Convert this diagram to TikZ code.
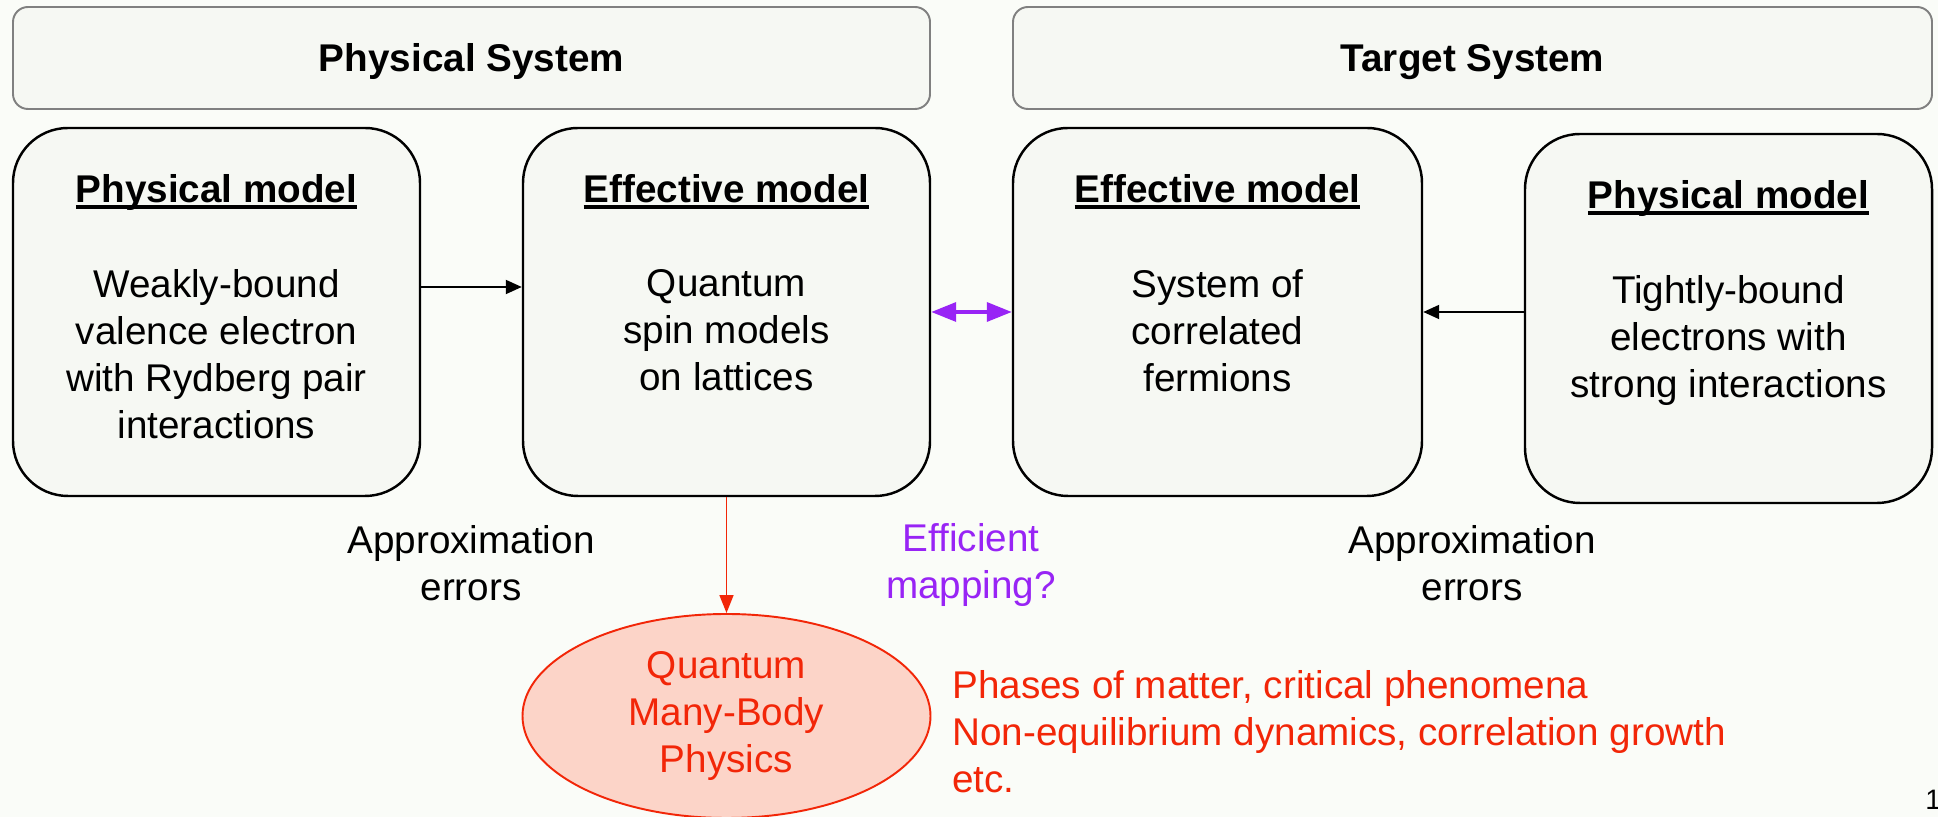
\documentclass[tikz,border=0pt]{standalone}
\usepackage{fontspec}
\setmainfont{Liberation Sans}
\usetikzlibrary{arrows.meta,shapes.geometric,positioning}

\definecolor{slidebg}{RGB}{250,252,248}
\definecolor{boxfill}{RGB}{246,248,243}
\definecolor{hotred}{RGB}{242,38,8}
\definecolor{pinkfill}{RGB}{252,212,200}
\definecolor{mappurple}{RGB}{152,36,245}

% bold heading with a flat underline just under the baseline
\newcommand{\ulhead}[1]{\setbox0=\hbox{\bfseries #1}\rlap{\rule[-0.15em]{\wd0}{0.08em}}\box0}

\begin{document}
\begin{tikzpicture}[font=\fontsize{22}{26.8}\selectfont,
  sysbox/.style={draw=black!50, line width=1.1pt, fill=boxfill, rounded corners=0.3cm,
    minimum height=2.04cm},
  modelbox/.style={draw=black, line width=1.4pt, fill=boxfill, rounded corners=1.1cm,
    minimum width=8.14cm, minimum height=7.36cm},
  txt/.style={inner sep=0pt, align=center},
  conn/.style={line width=1.1pt, -{Triangle[length=0.32cm,width=0.28cm]}}]
  \useasboundingbox (0,0) rectangle (38.76,16.34);
  \fill[slidebg] (0,0) rectangle (38.76,16.34);

  % the two systems
  \node[sysbox, minimum width=18.34cm] (physsys) at (9.43,15.18) {};
  \node[sysbox, minimum width=18.38cm] (targsys) at (29.45,15.18) {};
  \node[txt, anchor=base, font=\fontsize{22}{26.8}\selectfont\bfseries] (physsysh)
    at (physsys.center |- 0,14.9) {Physical System};
  \node[txt, anchor=base, font=\fontsize{22}{26.8}\selectfont\bfseries] (targsysh)
    at (targsys.center |- 0,14.9) {Target System};

  % model boxes
  \node[modelbox] (pm1) at (4.33,10.10) {};
  \node[modelbox] (em1) at (14.53,10.10) {};
  \node[modelbox, minimum width=8.18cm] (em2) at (24.35,10.10) {};
  \node[modelbox, minimum height=7.38cm] (pm2) at (34.57,9.97) {};

  \node[txt, anchor=base] (pm1h) at ([yshift=-1.52cm]pm1.north) {\ulhead{Physical model}};
  \node[txt, anchor=north] (pm1b) at ([yshift=-2.84cm]pm1.north)
    {Weakly-bound\\ valence electron\\ with Rydberg pair\\ interactions};
  \node[txt, anchor=base] (em1h) at ([yshift=-1.52cm]em1.north) {\ulhead{Effective model}};
  \node[txt, anchor=north] (em1b) at ([yshift=-2.84cm]em1.north)
    {Quantum\\ spin models\\ on lattices};
  \node[txt, anchor=base] (em2h) at ([yshift=-1.52cm]em2.north) {\ulhead{Effective model}};
  \node[txt, anchor=north] (em2b) at ([yshift=-2.84cm]em2.north)
    {System of\\ correlated\\ fermions};
  \node[txt, anchor=base] (pm2h) at ([yshift=-1.52cm]pm2.north) {\ulhead{Physical model}};
  \node[txt, anchor=north] (pm2b) at ([yshift=-2.84cm]pm2.north)
    {Tightly-bound\\ electrons with\\ strong interactions};

  % arrows between the models
  \draw[conn] ([yshift=0.5cm]pm1.east) -- ([yshift=0.5cm]em1.west);
  \draw[conn] (em2.east -| pm2.west) -- (em2.east);
  \draw[mappurple, line width=2pt,
    {Triangle[length=0.5cm,width=0.38cm]}-{Triangle[length=0.5cm,width=0.38cm]}]
    (em1.east) -- (em2.west);

  \node[txt] (approx1) at (9.42,5.08) {Approximation\\ errors};
  \node[txt, mappurple] (mapq) at (19.42,5.04) {Efficient\\ mapping?};
  \node[txt] (approx2) at (29.44,5.08) {Approximation\\ errors};

  % many-body physics
  \node[ellipse, draw=hotred, line width=1.1pt, fill=pinkfill, text=hotred, align=center,
    inner sep=0pt, minimum width=8.16cm, minimum height=4.08cm] (qmb) at (14.53,2.02)
    {Quantum\\ Many-Body\\ Physics};
  \draw[hotred, line width=0.9pt, -{Triangle[length=0.36cm,width=0.28cm]}]
    (em1.south) -- (qmb.north);
  \node[txt, hotred, align=left, anchor=west] (topics) at (19.04,1.71)
    {Phases of matter, critical phenomena\\
     Non-equilibrium dynamics, correlation growth\\
     etc.};

  \node[inner sep=0pt, anchor=north west, font=\fontsize{16}{18}\selectfont] (slideno)
    at (38.5,0.54) {1};
\end{tikzpicture}
\end{document}
